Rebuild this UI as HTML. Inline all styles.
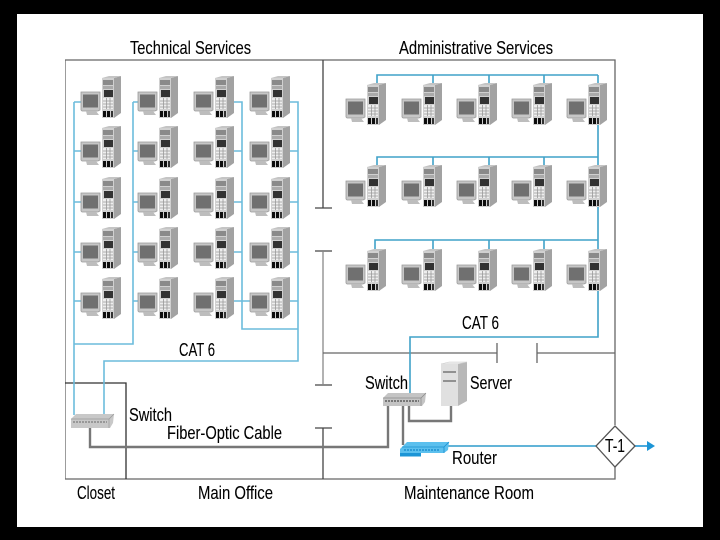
<!DOCTYPE html>
<html><head><meta charset="utf-8"><style>
html,body{margin:0;padding:0;background:#000;width:720px;height:540px;overflow:hidden}
svg{display:block}
text{font-family:"Liberation Sans Narrow","Liberation Sans",sans-serif;font-size:18px;fill:#000;stroke:#000;stroke-width:.1}
</style></head><body>
<svg width="720" height="540" viewBox="0 0 720 540" xmlns="http://www.w3.org/2000/svg">
<defs>
<filter id="soft" x="0" y="0" width="100%" height="100%"><feGaussianBlur stdDeviation="0.35"/></filter>
<g id="pc">
  <path d="M12 2 L19 0 V37 L12 42Z" fill="#a2a2a2"/>
  <path d="M0 2 L7 0 H19 L12 2Z" fill="#c4c4c4"/>
  <rect x="0" y="2" width="12" height="40" fill="#d0d0d0"/>
  <rect x="1" y="4" width="10" height="5" fill="#8a8a8a"/>
  <rect x="1" y="10" width="10" height="3" fill="#aaa"/>
  <rect x="2" y="14" width="9" height="7" fill="#333"/>
  <rect x="1" y="22" width="10" height="11" fill="#eee"/>
  <path d="M1 25H11M1 28H11M1 31H11M4.500 22V33M8 22V33" stroke="#999" stroke-width=".8"/>
  <rect x="1" y="35" width="3" height="6" fill="#111"/>
  <rect x="5" y="35" width="3" height="6" fill="#111"/>
  <rect x="9" y="35" width="2" height="6" fill="#333"/>
  <path d="M-21 16 H-2 V34 L-4 35 H-20 L-21 34Z" fill="#c6c6c6" stroke="#999" stroke-width=".8"/>
  <rect x="-19" y="18.500" width="15" height="13" fill="#707070"/>
  <path d="M-16 35 H-6 L-3 39 H-15Z" fill="#bdbdbd"/>
</g>
</defs>
<rect x="17" y="14" width="686" height="513" fill="#fff"/>

<g filter="url(#soft)">
<g fill="none" stroke="#666" stroke-width="1.300">
  <path d="M65 60 H615 V425 M615 467 V479 H65 V60"/>
  <path d="M323 60 V208 M315 208 H332 M315 251 H332 M315 385 H332 M315 428 H332 M323 428 V479" stroke="#444"/>
  <path d="M323 251 V385" stroke="#888"/>
  <path d="M323 353 H497 M497 343 V363 M537 343 V363 M537 353 H615"/>
  <path d="M65 383 H126 V479" stroke="#333"/>
</g>

<g fill="none" stroke="#6cbcdc" stroke-width="1.600">
  <path d="M74 102 V415 M74 102H81 M74 151H81 M74 202H81 M74 252H81 M74 301H81"/>
  <path d="M74 344 H133 V102 M133 102H138 M133 151H138 M133 202H138 M133 252H138 M133 301H138"/>
  <path d="M234 102 H242 V329 H298 M234 151H242 M234 202H242 M234 252H242 M234 301H250"/>
  <path d="M290 102 H298 V361 H104 V415 M290 151H298 M290 202H298 M290 252H298 M290 301H298"/>
  <path d="M377 83 V75 H598 M433 83V75 M489 83V75 M544 83V75" stroke="#3fa2c8"/>
  <path d="M377 165 V157 H598 M433 165V157 M489 165V157 M544 165V157" stroke="#3fa2c8"/>
  <path d="M375 249 V240 H598 M433 249V240 M489 249V240 M544 249V240" stroke="#3fa2c8"/>
  <path d="M598 75 V337 H410 V393" stroke="#3fa2c8"/>
  <path d="M445 446 H596" stroke="#2f9ccc"/>
  <path d="M634 446 H648" stroke="#1b95d6"/>
</g>
<path d="M647 441 L655 446 L647 451Z" fill="#1b95d6"/>

<g fill="none" stroke="#777" stroke-width="2.400">
  <path d="M90 428 V447 H388 V405"/>
  <path d="M403 405 V445"/>
  <path d="M409 405 V421 H451 V405"/>
</g>

<g>
<use href="#pc" x="102" y="76"/><use href="#pc" x="159" y="76"/><use href="#pc" x="215" y="76"/><use href="#pc" x="271" y="76"/>
<use href="#pc" x="102" y="126"/><use href="#pc" x="159" y="126"/><use href="#pc" x="215" y="126"/><use href="#pc" x="271" y="126"/>
<use href="#pc" x="102" y="177"/><use href="#pc" x="159" y="177"/><use href="#pc" x="215" y="177"/><use href="#pc" x="271" y="177"/>
<use href="#pc" x="102" y="227"/><use href="#pc" x="159" y="227"/><use href="#pc" x="215" y="227"/><use href="#pc" x="271" y="227"/>
<use href="#pc" x="102" y="277"/><use href="#pc" x="159" y="277"/><use href="#pc" x="215" y="277"/><use href="#pc" x="271" y="277"/>
<use href="#pc" x="367" y="83"/><use href="#pc" x="423" y="83"/><use href="#pc" x="478" y="83"/><use href="#pc" x="533" y="83"/><use href="#pc" x="588" y="83"/>
<use href="#pc" x="367" y="165"/><use href="#pc" x="423" y="165"/><use href="#pc" x="478" y="165"/><use href="#pc" x="533" y="165"/><use href="#pc" x="588" y="165"/>
<use href="#pc" x="367" y="249"/><use href="#pc" x="423" y="249"/><use href="#pc" x="478" y="249"/><use href="#pc" x="533" y="249"/><use href="#pc" x="588" y="249"/>
</g>

<g>
  <path d="M71 419 L76 414 H114 L113 423 L110 428 H71Z" fill="#c8c8c8"/>
  <path d="M71 419 H109 L114 414 M109 419 V428" stroke="#999" stroke-width=".7" fill="none"/>
  <path d="M73 422 H107" stroke="#888" stroke-width="1.500" stroke-dasharray="2 1"/>
</g>
<g>
  <path d="M383 398 L388 393 H426 L425 402 L422 406 H383Z" fill="#c4c4c4"/>
  <path d="M383 398 H421 L426 393 M421 398 V406" stroke="#888" stroke-width=".7" fill="none"/>
  <path d="M385 401 H419" stroke="#777" stroke-width="2" stroke-dasharray="2 1"/>
</g>
<g>
  <path d="M458 364 L467 362 V401 L458 406Z" fill="#b8b8b8"/>
  <path d="M441 364 L449 362 H467 L458 364Z" fill="#eee" stroke="#ccc" stroke-width=".5"/>
  <rect x="441" y="364" width="17" height="42" fill="#e0e0e0"/>
  <path d="M443 372 H456 M443 381 H456" stroke="#777" stroke-width="1.500"/>
</g>
<g>
  <path d="M400 449 L407 442 H449 L448 450 L444 453 H400Z" fill="#5cc0ee"/>
  <path d="M402 447 H444 L449 442 M444 447 V453" stroke="#1b8fd0" stroke-width=".8" fill="none"/>
  <path d="M404 450 H440" stroke="#1b8fd0" stroke-width="1.500" stroke-dasharray="2 1"/>
  <rect x="400" y="453" width="21" height="3.500" fill="#1b95d6"/>
</g>
<path d="M615 426 L635 446 L615 467 L596 446Z" fill="#fff" stroke="#555" stroke-width="1.300"/>

<g>
<text x="130" y="54" textLength="121" lengthAdjust="spacingAndGlyphs">Technical Services</text>
<text x="399" y="54" textLength="154" lengthAdjust="spacingAndGlyphs">Administrative Services</text>
<text x="179" y="356" textLength="36" lengthAdjust="spacingAndGlyphs">CAT 6</text>
<text x="462" y="329" textLength="37" lengthAdjust="spacingAndGlyphs">CAT 6</text>
<text x="365" y="389" textLength="43" lengthAdjust="spacingAndGlyphs">Switch</text>
<text x="470" y="389" textLength="42" lengthAdjust="spacingAndGlyphs">Server</text>
<text x="129" y="421" textLength="43" lengthAdjust="spacingAndGlyphs">Switch</text>
<text x="167" y="439" textLength="115" lengthAdjust="spacingAndGlyphs">Fiber-Optic Cable</text>
<text x="452" y="464" textLength="45" lengthAdjust="spacingAndGlyphs">Router</text>
<text x="77" y="499" textLength="38" lengthAdjust="spacingAndGlyphs">Closet</text>
<text x="198" y="499" textLength="75" lengthAdjust="spacingAndGlyphs">Main Office</text>
<text x="404" y="499" textLength="130" lengthAdjust="spacingAndGlyphs">Maintenance Room</text>
<text x="605" y="452" textLength="20" lengthAdjust="spacingAndGlyphs">T-1</text>
</g>
</g>
</svg>
</body></html>
